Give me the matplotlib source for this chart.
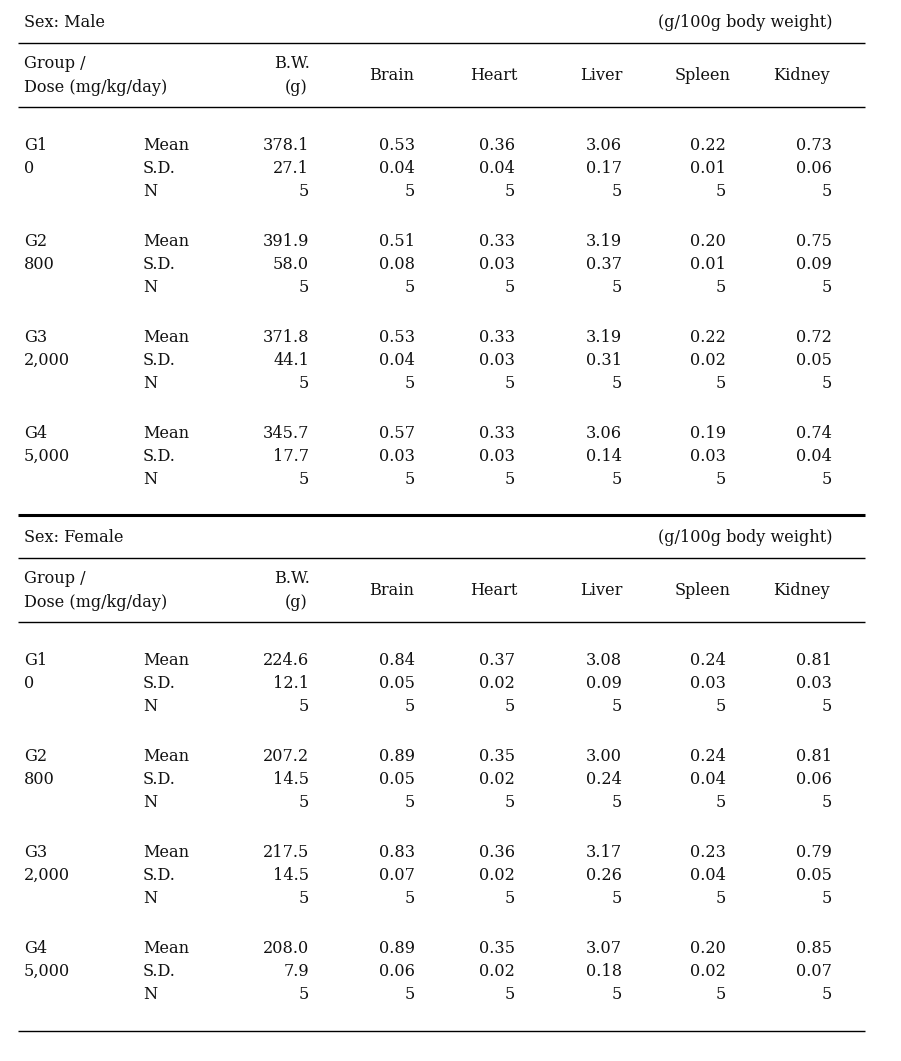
import matplotlib
matplotlib.use("Agg")
import matplotlib.pyplot as plt

plt.rcParams['font.family'] = ['DejaVu Serif', 'Liberation Serif']

# ---- data ----
organs = ["Brain", "Heart", "Liver", "Spleen", "Kidney"]
groups = ["G1", "G2", "G3", "G4"]
doses = ["0", "800", "2,000", "5,000"]
stats = ["Mean", "S.D.", "N"]

male_bw_mean = [378.1, 391.9, 371.8, 345.7]
male_bw_sd = [27.1, 58.0, 44.1, 17.7]
male_n = [5, 5, 5, 5]
male_mean = [
    [0.53, 0.36, 3.06, 0.22, 0.73],
    [0.51, 0.33, 3.19, 0.20, 0.75],
    [0.53, 0.33, 3.19, 0.22, 0.72],
    [0.57, 0.33, 3.06, 0.19, 0.74],
]
male_sd = [
    [0.04, 0.04, 0.17, 0.01, 0.06],
    [0.08, 0.03, 0.37, 0.01, 0.09],
    [0.04, 0.03, 0.31, 0.02, 0.05],
    [0.03, 0.03, 0.14, 0.03, 0.04],
]

female_bw_mean = [224.6, 207.2, 217.5, 208.0]
female_bw_sd = [12.1, 14.5, 14.5, 7.9]
female_n = [5, 5, 5, 5]
female_mean = [
    [0.84, 0.37, 3.08, 0.24, 0.81],
    [0.89, 0.35, 3.00, 0.24, 0.81],
    [0.83, 0.36, 3.17, 0.23, 0.79],
    [0.89, 0.35, 3.07, 0.20, 0.85],
]
female_sd = [
    [0.05, 0.02, 0.09, 0.03, 0.03],
    [0.05, 0.02, 0.24, 0.04, 0.06],
    [0.07, 0.02, 0.26, 0.04, 0.05],
    [0.06, 0.02, 0.18, 0.02, 0.07],
]

# ---- layout ----
W, H = 901, 1061
fig = plt.figure(figsize=(W / 100, H / 100), dpi=100)
ax = fig.add_axes([0, 0, 1, 1])
ax.set_xlim(0, W)
ax.set_ylim(H, 0)
ax.axis("off")

FS = 11.6
x_left, x_right = 18, 865
x_group = 24
x_stat = 143
x_bw = 309
organ_right = [415, 515, 622, 726, 832]
organ_center = [392, 494, 601, 703, 802]
B = 5.0  # baseline offset from visual centre


def txt(x, y, s, ha="left"):
    ax.text(x, y + B, s, fontsize=FS, va="baseline", ha=ha, color="#111111")


def hline(y, lw=1.0):
    ax.plot([x_left, x_right], [y, y], color="black", lw=lw, solid_capstyle="butt")


def section(top, sex, bw_mean, bw_sd, n, means, sds):
    txt(x_group, top + 21, f"Sex: {sex}")
    txt(833, top + 21, "(g/100g body weight)", ha="right")
    hline(top + 42)
    txt(x_group, top + 62, "Group /")
    txt(x_group, top + 86, "Dose (mg/kg/day)")
    txt(x_bw + 1, top + 62, "B.W.", ha="right")
    txt(x_bw - 1, top + 86, "(g)", ha="right")
    for name, xc in zip(organs, organ_center):
        txt(xc, top + 74, name, ha="center")
    hline(top + 106)
    for gi in range(len(groups)):
        y0 = top + 144 + gi * 96
        txt(x_group, y0, groups[gi])
        txt(x_group, y0 + 23, doses[gi])
        for si, s in enumerate(stats):
            txt(x_stat, y0 + si * 23, s)
        txt(x_bw, y0, f"{bw_mean[gi]:.1f}", ha="right")
        txt(x_bw, y0 + 23, f"{bw_sd[gi]:.1f}", ha="right")
        txt(x_bw, y0 + 46, f"{n[gi]}", ha="right")
        for oi, xr in enumerate(organ_right):
            txt(xr, y0, f"{means[gi][oi]:.2f}", ha="right")
            txt(xr, y0 + 23, f"{sds[gi][oi]:.2f}", ha="right")
            txt(xr, y0 + 46, f"{n[gi]}", ha="right")


section(1, "Male", male_bw_mean, male_bw_sd, male_n, male_mean, male_sd)
hline(515, lw=2.2)
section(516, "Female", female_bw_mean, female_bw_sd, female_n, female_mean, female_sd)
hline(1031)

fig.savefig("out.png", dpi=100, facecolor="white")
